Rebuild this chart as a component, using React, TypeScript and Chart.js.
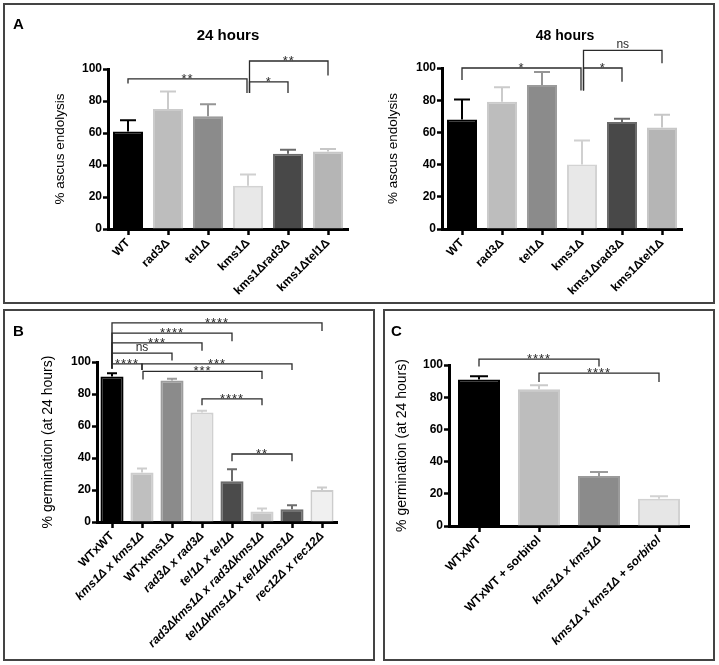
import React, { useEffect, useRef } from 'react';
import { Chart, registerables } from 'chart.js';
Chart.register(...registerables);

const FONT = '"Liberation Sans", Arial, Helvetica, sans-serif';

type Bracket = { a: number; b: number; y: number; dl: number; dr: number; label: string; oa?: number; ob?: number };

// ---------- Panel A, 24 hours ----------
const a24Labels = ['WT', 'rad3Δ', 'tel1Δ', 'kms1Δ', 'kms1Δrad3Δ', 'kms1Δtel1Δ'];
const a24Values = [61, 75, 70.5, 27, 47, 48.5];
const a24Errors = [7, 11, 7.5, 7, 2.5, 1.5];
const a24Brackets: Bracket[] = [
  { a: 0, b: 3, y: 93.8, dl: 91, dr: 85, label: '**', ob: -1 },
  { a: 3, b: 4, y: 92, dl: 85, dr: 85, label: '*', oa: 1.5 },
  { a: 3, b: 5, y: 105, dl: 85, dr: 96, label: '**', oa: 1.5 },
];

// ---------- Panel A, 48 hours ----------
const a48Labels = ['WT', 'rad3Δ', 'tel1Δ', 'kms1Δ', 'kms1Δrad3Δ', 'kms1Δtel1Δ'];
const a48Values = [68, 79, 89.5, 40, 66.5, 63];
const a48Errors = [12.5, 9, 8, 15, 2, 8];
const a48Brackets: Bracket[] = [
  { a: 0, b: 3, y: 100, dl: 92.5, dr: 86, label: '*', ob: -1 },
  { a: 3, b: 4, y: 100, dl: 86, dr: 91.5, label: '*', oa: 1.5 },
  { a: 3, b: 5, y: 111, dl: 86, dr: 103, label: 'ns', oa: 1.5 },
];

const aFills = ['#000000', '#bdbdbd', '#8b8b8b', '#e8e8e8', '#484848', '#b5b5b5'];
const aBorders = ['#000000', '#cbcbcb', '#9b9b9b', '#d3d3d3', '#6b6b6b', '#c7c7c7'];
const aErrColors = ['#000000', '#cbcbcb', '#959595', '#d0d0d0', '#6b6b6b', '#c7c7c7'];

// ---------- Panel B ----------
const bLabels = ['WTxWT', 'kms1Δ x kms1Δ', 'WTxkms1Δ', 'rad3Δ x rad3Δ', 'tel1Δ x tel1Δ', 'rad3Δkms1Δ x rad3Δkms1Δ', 'tel1Δkms1Δ x tel1Δkms1Δ', 'rec12Δ x rec12Δ'];
const bValues = [91, 31, 88.5, 68.5, 25.5, 6.5, 8, 20];
const bErrors = [2, 2.5, 1, 1, 7.5, 2, 2.5, 1.5];
const bItalic = [false, true, false, true, true, true, true, true];
const bFills = ['#000000', '#bfbfbf', '#8b8b8b', '#e6e6e6', '#4b4b4b', '#c3c3c3', '#4f4f4f', '#f0f0f0'];
const bBorders = ['#000000', '#cdcdcd', '#9c9c9c', '#d0d0d0', '#6b6b6b', '#cfcfcf', '#6d6d6d', '#cccccc'];
const bBrackets: Bracket[] = [
  { a: 0, b: 7, y: 124.4, dl: 96, dr: 119.4, label: '****' },
  { a: 0, b: 4, y: 118, dl: 96, dr: 113, label: '****' },
  { a: 0, b: 3, y: 112, dl: 96, dr: 107, label: '***' },
  { a: 0, b: 2, y: 105.6, dl: 96, dr: 101, label: 'ns' },
  { a: 0, b: 1, y: 98.8, dl: 96, dr: 95, label: '****' },
  { a: 1, b: 6, y: 98.8, dl: 95, dr: 95, label: '***' },
  { a: 1, b: 5, y: 94.2, dl: 89, dr: 89.4, label: '***', oa: 1 },
  { a: 3, b: 5, y: 77, dl: 73, dr: 73, label: '****' },
  { a: 4, b: 6, y: 42.5, dl: 38, dr: 38, label: '**' },
];

// ---------- Panel C ----------
const cLabels = ['WTxWT', 'WTxWT + sorbitol', 'kms1Δ x kms1Δ', 'kms1Δ x kms1Δ + sorbitol'];
const cValues = [91, 85, 31, 17];
const cErrors = [2, 2.5, 2.5, 1.5];
const cItalic = [false, false, true, true];
const cFills = ['#000000', '#bdbdbd', '#8b8b8b', '#e6e6e6'];
const cBorders = ['#000000', '#cacaca', '#9b9b9b', '#d2d2d2'];
const cBrackets: Bracket[] = [
  { a: 0, b: 2, y: 103.7, dl: 99, dr: 99, label: '****' },
  { a: 1, b: 3, y: 95, dl: 89.5, dr: 89.5, label: '****' },
];

interface PanelCfg {
  left: number; top: number; width: number; height: number;
  areaLeft: number; areaRight: number; areaTop: number; areaBottom: number;
  labels: string[]; values: number[]; errors: number[];
  fills: string[]; borders: string[]; errColors: string[];
  italic: boolean[]; brackets: Bracket[];
  yTitle: string; yTitleSize: number; yTitleX: number;
  barPct: number; cap: number;
}

const panels: PanelCfg[] = [
  {
    left: 5, top: 5, width: 352, height: 296,
    areaLeft: 108, areaRight: 348, areaTop: 69, areaBottom: 229,
    labels: a24Labels, values: a24Values, errors: a24Errors,
    fills: aFills, borders: aBorders, errColors: aErrColors,
    italic: a24Labels.map(() => false), brackets: a24Brackets,
    yTitle: '% ascus endolysis', yTitleSize: 13.5, yTitleX: 60,
    barPct: 0.75, cap: 16,
  },
  {
    left: 359, top: 5, width: 354, height: 296,
    areaLeft: 442, areaRight: 682, areaTop: 68, areaBottom: 229,
    labels: a48Labels, values: a48Values, errors: a48Errors,
    fills: aFills, borders: aBorders, errColors: aErrColors,
    italic: a48Labels.map(() => false), brackets: a48Brackets,
    yTitle: '% ascus endolysis', yTitleSize: 13.5, yTitleX: 393,
    barPct: 0.75, cap: 16,
  },
  {
    left: 5, top: 311, width: 368, height: 348,
    areaLeft: 97, areaRight: 337, areaTop: 362, areaBottom: 522,
    labels: bLabels, values: bValues, errors: bErrors,
    fills: bFills, borders: bBorders, errColors: bBorders,
    italic: bItalic, brackets: bBrackets,
    yTitle: '% germination (at 24 hours)', yTitleSize: 14, yTitleX: 48,
    barPct: 0.77, cap: 10,
  },
  {
    left: 386, top: 311, width: 327, height: 348,
    areaLeft: 449, areaRight: 689, areaTop: 365, areaBottom: 526,
    labels: cLabels, values: cValues, errors: cErrors,
    fills: cFills, borders: cBorders, errColors: cBorders,
    italic: cItalic, brackets: cBrackets,
    yTitle: '% germination (at 24 hours)', yTitleSize: 14, yTitleX: 402,
    barPct: 0.7, cap: 18,
  },
];

function BarPanel({ cfg }: { cfg: PanelCfg }) {
  const ref = useRef<HTMLCanvasElement>(null);
  useEffect(() => {
    const c = cfg;
    const yW = c.areaLeft - c.left;
    const xH = c.top + c.height - c.areaBottom;
    const lh = c.yTitleSize * 1.2;
    const plugin: any = {
      id: 'annot',
      afterDatasetsDraw(chart: any) {
        const { ctx } = chart;
        const xs = chart.scales.x, ys = chart.scales.y;
        ctx.save();
        c.errors.forEach((e, i) => {
          const v = c.values[i];
          const cx = xs.getPixelForValue(i);
          const y0 = ys.getPixelForValue(v);
          const y1 = ys.getPixelForValue(v + e);
          ctx.strokeStyle = c.errColors[i];
          ctx.lineWidth = 2;
          ctx.beginPath();
          ctx.moveTo(cx, y0);
          ctx.lineTo(cx, y1);
          ctx.moveTo(cx - c.cap / 2, y1);
          ctx.lineTo(cx + c.cap / 2, y1);
          ctx.stroke();
        });
        ctx.restore();
      },
      afterDraw(chart: any) {
        const { ctx } = chart;
        const xs = chart.scales.x, ys = chart.scales.y;
        ctx.save();
        c.brackets.forEach((b) => {
          const xa = xs.getPixelForValue(b.a) + (b.oa || 0);
          const xb = xs.getPixelForValue(b.b) + (b.ob || 0);
          const yy = ys.getPixelForValue(b.y);
          const ya = ys.getPixelForValue(b.dl);
          const yb = ys.getPixelForValue(b.dr);
          ctx.strokeStyle = '#2b2b2b';
          ctx.lineWidth = 1.3;
          ctx.beginPath();
          ctx.moveTo(xa, ya);
          ctx.lineTo(xa, yy);
          ctx.lineTo(xb, yy);
          ctx.lineTo(xb, yb);
          ctx.stroke();
          const mx = (xa + xb) / 2;
          ctx.fillStyle = '#2b2b2b';
          ctx.textAlign = 'center';
          ctx.textBaseline = 'alphabetic';
          if (b.label === 'ns') {
            ctx.font = `12px ${FONT}`;
            (ctx as any).letterSpacing = '0px';
            ctx.fillText(b.label, mx, yy - 2);
          } else {
            ctx.font = `13px ${FONT}`;
            (ctx as any).letterSpacing = '1px';
            ctx.fillText(b.label, mx, yy + 4);
          }
        });
        ctx.restore();
      },
    };
    const chart = new Chart(ref.current!, {
      type: 'bar',
      data: {
        labels: c.labels,
        datasets: [{
          data: c.values,
          backgroundColor: c.fills,
          borderColor: c.borders,
          borderWidth: 2,
          barPercentage: c.barPct,
          categoryPercentage: 1,
        }],
      },
      options: {
        responsive: false,
        animation: false,
        layout: { padding: { top: c.areaTop - c.top, right: c.left + c.width - c.areaRight, left: 0, bottom: 0 } },
        plugins: { legend: { display: false }, tooltip: { enabled: false } },
        scales: {
          x: {
            z: 1,
            offset: true,
            grid: { display: true, drawOnChartArea: false, offset: false, tickLength: 6, tickWidth: 2.5, tickColor: '#000' },
            border: { display: true, color: '#000', width: 3 },
            ticks: {
              autoSkip: false, maxRotation: 45, minRotation: 45, padding: 1, color: '#000',
              font: (ctx: any) => ({ family: FONT, size: 12, weight: 'bold', style: c.italic[ctx.index] ? 'italic' : 'normal' }),
            },
            afterFit: (s: any) => { s.height = xH; s.paddingLeft = 0; s.paddingRight = 0; },
          },
          y: {
            z: 1,
            min: 0, max: 100,
            grid: { display: true, drawOnChartArea: false, tickLength: 5, tickWidth: 2.5, tickColor: '#000' },
            border: { display: true, color: '#000', width: 3 },
            ticks: { stepSize: 20, padding: 1, color: '#000', font: { family: FONT, size: 12, weight: 'bold' } },
            title: {
              display: true, text: c.yTitle, color: '#000',
              font: { family: FONT, size: c.yTitleSize, weight: 'normal' },
              padding: { top: c.yTitleX - c.left - lh / 2, bottom: 0 },
            },
            afterFit: (s: any) => { s.width = yW; s.paddingTop = 0; s.paddingBottom = 0; },
          },
        },
      } as any,
      plugins: [plugin],
    });
    return () => chart.destroy();
  }, [cfg]);
  return (
    <canvas
      ref={ref}
      width={cfg.width}
      height={cfg.height}
      style={{ position: 'absolute', left: cfg.left, top: cfg.top, width: cfg.width, height: cfg.height }}
    />
  );
}

const boxStyle = (l: number, t: number, r: number, b: number): React.CSSProperties => ({
  position: 'absolute', left: l, top: t, width: r - l, height: b - t,
  border: '2px solid #444', boxSizing: 'border-box',
});

const textStyle = (l: number, t: number, size: number, w?: number): React.CSSProperties => ({
  position: 'absolute', left: l, top: t, width: w, fontFamily: FONT, fontWeight: 'bold',
  fontSize: size, lineHeight: `${size}px`, color: '#000', textAlign: w ? 'center' : 'left', whiteSpace: 'nowrap',
});

export default function App() {
  return (
    <div style={{ position: 'absolute', left: 0, top: 0, width: 719, height: 665, background: '#fff', overflow: 'hidden' }}>
      <div style={boxStyle(3, 3, 715, 304)} />
      <div style={boxStyle(3, 309, 375, 661)} />
      <div style={boxStyle(383, 309, 715, 661)} />
      {panels.map((p, i) => <BarPanel key={i} cfg={p} />)}
      <div style={textStyle(13, 16, 15)}>A</div>
      <div style={textStyle(13, 323, 15)}>B</div>
      <div style={textStyle(391, 323, 15)}>C</div>
      <div style={textStyle(128, 27, 15, 200)}>24 hours</div>
      <div style={textStyle(465, 28, 14, 200)}>48 hours</div>
    </div>
  );
}
